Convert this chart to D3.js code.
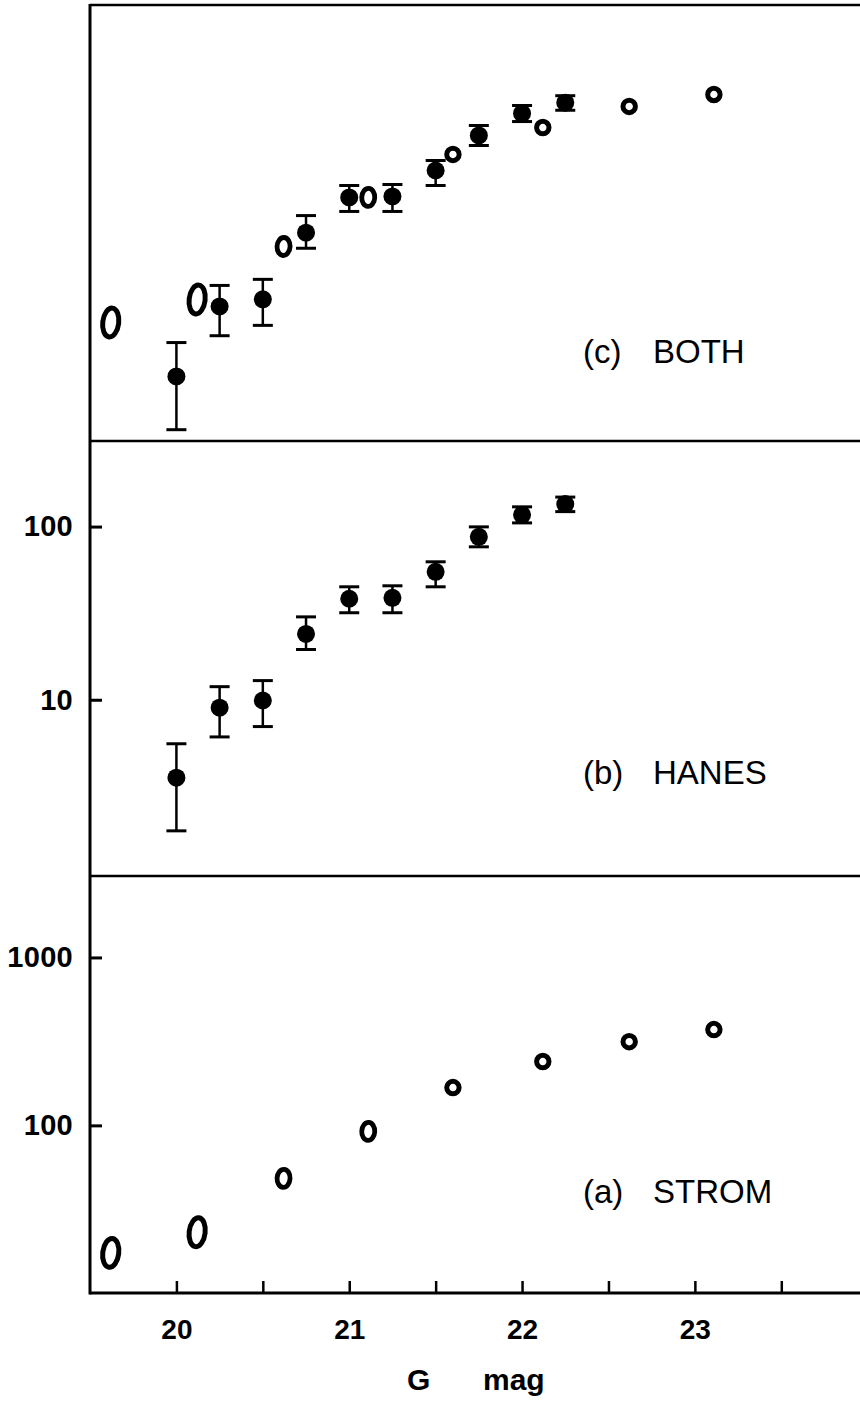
<!DOCTYPE html>
<html>
<head>
<meta charset="utf-8">
<script src="https://cdn.jsdelivr.net/npm/d3@7"></script>
<style>
  body { margin: 0; background: #fff; }
  svg { display: block; }
  text { font-family: "Liberation Sans", Arial, sans-serif; fill: #000; }
</style>
</head>
<body>
<svg id="chart" width="860" height="1405"></svg>
<script>
// HANES counts, filled points with error bars (panels b and c)
const hanesMag = [20.0, 20.25, 20.5, 20.75, 21.0, 21.25, 21.5, 21.75, 22.0, 22.25];
const hanesN   = [3.55, 9.0, 9.9, 24.0, 38.3, 38.8, 54.8, 87.3, 117, 135];
const hanesLo  = [1.75, 6.1, 7.0, 19.5, 31.8, 31.8, 44.9, 76.4, 105, 122];
const hanesHi  = [5.57, 11.9, 12.9, 30.1, 44.9, 45.5, 62.6, 99.6, 130, 148];

// STROM counts, open points (panel a)
const stromMag = [19.62, 20.12, 20.62, 21.11, 21.6, 22.12, 22.62, 23.11];
const stromN   = [17.4, 23.1, 48.4, 92, 168, 240, 315, 372];
// STROM as plotted in panel c, scaled onto the Hanes counts
const stromBoth = [7.27, 9.87, 19.96, 38.3, 67.8, 97.0, 128.3, 150.4];

const xTicks = [20, 20.5, 21, 21.5, 22, 22.5, 23, 23.5];
const hanesTicks = [10, 100];
const stromTicks = [100, 1000];

const svg = d3.select("#chart");
const W = 860;

const x = d3.scaleLinear().domain([19.5, 24]).range([90, 867.7]);

// one log scale per panel
const yC = d3.scaleLog().domain([1.506, 494]).range([441, 5]);
const yB = d3.scaleLog().domain([0.96, 312]).range([876, 441]);
const yA = d3.scaleLog().domain([10.04, 3055]).range([1293, 876]);

const panels = [
  { y: yC, tag: "(c)", name: "BOTH", labelY: 363, ticks: null },
  { y: yB, tag: "(b)", name: "HANES", labelY: 784, ticks: hanesTicks },
  { y: yA, tag: "(a)", name: "STROM", labelY: 1203, ticks: stromTicks }
];

// frame: left spine plus horizontal panel edges
const frame = svg.append("g").attr("stroke", "#000").attr("fill", "none");
frame.append("line")
  .attr("x1", 90).attr("x2", 90)
  .attr("y1", yC.range()[1] - 1).attr("y2", yA.range()[0] + 1.5)
  .attr("stroke-width", 3);
[yC.range()[1], yC.range()[0], yB.range()[0], yA.range()[0]].forEach((yy, i) => {
  frame.append("line")
    .attr("x1", 90).attr("x2", W)
    .attr("y1", yy).attr("y2", yy)
    .attr("stroke-width", i === 3 ? 3 : 2.5);
});

// y axes (ticks pointing in)
panels.forEach(p => {
  if (!p.ticks) return;
  const ax = d3.axisLeft(p.y)
    .tickValues(p.ticks)
    .tickFormat(d3.format("d"))
    .tickSizeInner(-12)
    .tickSizeOuter(0)
    .tickPadding(17);
  const g = svg.append("g").attr("transform", "translate(90,0)").call(ax);
  g.select(".domain").remove();
  g.selectAll(".tick line").attr("stroke", "#000").attr("stroke-width", 3);
  g.selectAll(".tick text")
    .attr("font-size", 29).attr("font-weight", "bold")
    .attr("letter-spacing", 0.3)
    .style("font-family", "'Liberation Sans', Arial, sans-serif");
});

// x axis
const xAxis = d3.axisBottom(x)
  .tickValues(xTicks)
  .tickFormat(d => Number.isInteger(d) ? d : "")
  .tickSizeInner(-12)
  .tickSizeOuter(0)
  .tickPadding(26);
const gx = svg.append("g").attr("transform", `translate(0,${yA.range()[0]})`).call(xAxis);
gx.select(".domain").remove();
gx.selectAll(".tick line").attr("stroke", "#000").attr("stroke-width", 2.5);
gx.selectAll(".tick text")
  .attr("font-size", 28).attr("font-weight", "bold")
  .style("font-family", "'Liberation Sans', Arial, sans-serif");

svg.append("text").attr("x", 407).attr("y", 1390)
  .attr("font-size", 30).attr("font-weight", "bold").text("G");
svg.append("text").attr("x", 483).attr("y", 1390)
  .attr("font-size", 30).attr("font-weight", "bold").text("mag");

// panel labels
panels.forEach(p => {
  svg.append("text").attr("x", 583).attr("y", p.labelY)
    .attr("font-size", 33).text(p.tag);
  svg.append("text").attr("x", 653).attr("y", p.labelY)
    .attr("font-size", 33).text(p.name);
});

// filled points with error bars
function drawHanes(y) {
  const g = svg.append("g");
  const pts = hanesMag.map((m, i) => ({ m, n: hanesN[i], lo: hanesLo[i], hi: hanesHi[i] }));
  const pt = g.selectAll("g.pt").data(pts).join("g").attr("class", "pt");
  pt.append("line")
    .attr("x1", d => x(d.m)).attr("x2", d => x(d.m))
    .attr("y1", d => y(d.lo)).attr("y2", d => y(d.hi))
    .attr("stroke", "#000").attr("stroke-width", 2.5);
  ["lo", "hi"].forEach(k => {
    pt.append("line")
      .attr("x1", d => x(d.m) - 10).attr("x2", d => x(d.m) + 10)
      .attr("y1", d => y(d[k])).attr("y2", d => y(d[k]))
      .attr("stroke", "#000").attr("stroke-width", 3);
  });
  pt.append("circle")
    .attr("cx", d => x(d.m)).attr("cy", d => y(d.n))
    .attr("r", 9).attr("fill", "#000");
}

// open points: big "0" at the faint end, small rings at the bright end
function openShape(m) {
  if (m < 20.4) return { rx: 8, ry: 14.5, rot: 7, w: 5 };
  if (m < 21.3) return { rx: 6.5, ry: 9, rot: 3, w: 4.8 };
  return { rx: 6.2, ry: 6.2, rot: 0, w: 5 };
}
function drawStrom(y, vals) {
  const g = svg.append("g");
  const pts = stromMag.map((m, i) => ({ m, n: vals[i] }));
  g.selectAll("ellipse").data(pts).join("ellipse")
    .attr("cx", 0).attr("cy", 0)
    .attr("rx", d => openShape(d.m).rx)
    .attr("ry", d => openShape(d.m).ry)
    .attr("transform", d => `translate(${x(d.m)},${y(d.n)}) rotate(${openShape(d.m).rot})`)
    .attr("fill", "none").attr("stroke", "#000")
    .attr("stroke-width", d => openShape(d.m).w);
}

drawHanes(yC);
drawStrom(yC, stromBoth);
drawHanes(yB);
drawStrom(yA, stromN);
</script>
</body>
</html>
